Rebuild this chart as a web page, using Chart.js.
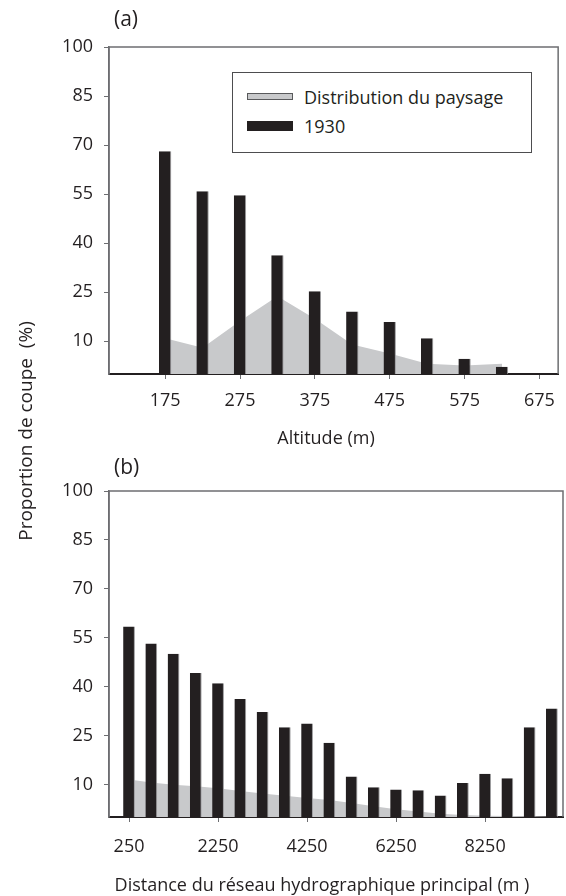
<!DOCTYPE html>
<html>
<head>
<meta charset="utf-8">
<script src="https://cdn.jsdelivr.net/npm/chart.js@4.4.1/dist/chart.umd.min.js"></script>
<style>
  body { margin: 0; background: #fff; font-family: "Open Sans", sans-serif; color: #231f20; }
  #wrap { position: relative; width: 566px; height: 896px; overflow: hidden; }
  canvas { position: absolute; left: 0; }
  #chartA { top: 0; }
  #chartB { top: 448px; }
  .tag { position: absolute; left: 114px; font-size: 21px; line-height: 24px; }
  .xtitle { position: absolute; width: 500px; height: 24px; line-height: 24px; font-size: 18px; text-align: center; white-space: pre; }
  #ylabel {
    position: absolute; left: -175px; top: 419px; width: 400px; height: 24px; line-height: 24px;
    font-size: 19px; text-align: center; white-space: pre; transform: rotate(-90deg);
  }
  #legendA {
    position: absolute; left: 232px; top: 72px; width: 298px; height: 79px;
    border: 1px solid #4d4d4f; background: #fff;
  }
  .item { position: absolute; left: 14px; height: 24px; font-size: 18px; line-height: 24px; }
  .item span.sw { position: absolute; left: 0; width: 46px; box-sizing: border-box; }
  .item span.txt { position: absolute; left: 57px; white-space: nowrap; }
</style>
</head>
<body>
<div id="wrap">
  <canvas id="chartA" width="566" height="448"></canvas>
  <canvas id="chartB" width="566" height="448"></canvas>
  <div class="tag" style="top:6px">(a)</div>
  <div class="tag" style="top:454px">(b)</div>
  <div class="xtitle" style="left:76px;top:425px">Altitude (m)</div>
  <div class="xtitle" style="left:72px;top:872px">Distance du réseau hydrographique principal (m )</div>
  <div id="ylabel">Proportion de coupe  (%)</div>
  <div id="legendA"></div>
</div>
<script>
// panel (a) : altitude
const altitudes = [175, 225, 275, 325, 375, 425, 475, 525, 575, 625];
const coupeAlt1930 = [68.1, 55.9, 54.7, 36.3, 25.3, 19.1, 15.9, 10.9, 4.7, 2.2];
const paysageAlt = [10.9, 8.0, 16.2, 23.8, 16.9, 9.0, 6.3, 3.1, 2.6, 3.1];
const altTicks = [175, 275, 375, 475, 575, 675];

// panel (b) : distance au reseau hydrographique
const distances = [250, 750, 1250, 1750, 2250, 2750, 3250, 3750, 4250, 4750,
  5250, 5750, 6250, 6750, 7250, 7750, 8250, 8750, 9250, 9750];
const coupeDist1930 = [58.4, 53.2, 50.1, 44.2, 41.0, 36.2, 32.2, 27.5, 28.7, 22.8,
  12.4, 9.1, 8.4, 8.2, 6.6, 10.4, 13.3, 11.9, 27.5, 33.3];
const paysageDist = [11.5, 10.6, 9.9, 9.4, 8.8, 8.0, 7.2, 6.5, 5.8, 5.2,
  4.3, 3.3, 2.4, 1.7, 1.0, 0.6, 0.4, 0.3, 0.2, 0.1];
const distTicks = [250, 2250, 4250, 6250, 8250];

const yTicks = [10, 25, 40, 55, 70, 85, 100];

const ink = "#231f20";
const greyLand = "#c8c9cb";
const frameGrey = "#6d6e71";

Chart.defaults.font.family = '"Open Sans", sans-serif';
Chart.defaults.font.size = 18;
Chart.defaults.color = ink;

// left, top and right lines of the box
const framePlugin = {
  id: "frame",
  afterDraw(chart) {
    const { ctx, chartArea: a } = chart;
    ctx.save();
    ctx.strokeStyle = frameGrey;
    ctx.lineWidth = 1.5;
    ctx.beginPath();
    ctx.moveTo(a.left, a.bottom);
    ctx.lineTo(a.left, a.top);
    ctx.lineTo(a.right, a.top);
    ctx.lineTo(a.right, a.bottom);
    ctx.stroke();
    ctx.restore();
  },
};

const toPoints = (xs, ys) => xs.map((x, i) => ({ x, y: ys[i] }));

const makeChart = (id, p) => {
  const config = {
    type: "bar",
    data: {
      datasets: [
        {
          type: "line",
          label: "Distribution du paysage",
          data: toPoints(p.xs, p.land),
          fill: "origin",
          backgroundColor: greyLand,
          borderColor: greyLand,
          borderWidth: 0,
          pointRadius: 0,
          tension: 0,
          order: 1,
        },
        {
          type: "bar",
          label: "1930",
          data: toPoints(p.xs, p.bars),
          backgroundColor: ink,
          borderColor: "#9d9d9f",
          borderWidth: { top: 0, right: 1, bottom: 0, left: 0 },
          borderSkipped: false,
          barPercentage: p.barPct,
          categoryPercentage: 1,
          order: 0,
        },
      ],
    },
    options: {
      responsive: false,
      animation: false,
      layout: { padding: { top: p.top, right: 3, left: 0, bottom: 0 } },
      plugins: { legend: { display: false }, tooltip: { enabled: false } },
      scales: {
        x: {
          type: "linear",
          min: p.xMin,
          max: p.xMax,
          offset: false,
          afterBuildTicks: (axis) => {
            axis.ticks = p.xTicks.map((v) => ({ value: v }));
          },
          afterFit: (axis) => {
            axis.height = p.xAxisH;
          },
          grid: { offset: false, drawOnChartArea: false, tickLength: 5, color: frameGrey },
          border: { color: ink, width: 2 },
          ticks: { padding: p.tickPad, maxRotation: 0, callback: (v) => String(v) },
        },
        y: {
          min: 0,
          max: 100,
          afterBuildTicks: (axis) => {
            axis.ticks = yTicks.map((v) => ({ value: v }));
          },
          afterFit: (axis) => {
            axis.width = 109;
          },
          grid: { drawOnChartArea: false, tickLength: 5, color: frameGrey },
          border: { color: frameGrey, width: 1.5 },
          ticks: { padding: 11, callback: (v) => String(v) },
        },
      },
    },
    plugins: [framePlugin],
  };
  return new Chart(document.getElementById(id), config);
};

const chartA = makeChart("chartA", {
  xs: altitudes, bars: coupeAlt1930, land: paysageAlt, xTicks: altTicks,
  xMin: 100, xMax: 700, top: 47, xAxisH: 74, tickPad: 11, barPct: 0.33,
});

makeChart("chartB", {
  xs: distances, bars: coupeDist1930, land: paysageDist, xTicks: distTicks,
  xMin: -200, xMax: 10000, top: 43, xAxisH: 79, tickPad: 14, barPct: 0.53,
});

// legend of panel (a), built from the chart's own datasets
const legendA = document.getElementById("legendA");
chartA.data.datasets.forEach((ds, i) => {
  const item = document.createElement("div");
  item.className = "item";
  item.style.top = (i === 0 ? 12 : 41) + "px";
  const sw = document.createElement("span");
  sw.className = "sw";
  if (ds.type === "line") {
    sw.style.cssText = `top:8px;height:7px;background:${ds.backgroundColor};border:1px solid #58595b;`;
  } else {
    sw.style.cssText = `top:7px;height:10px;background:${ds.backgroundColor};`;
  }
  const txt = document.createElement("span");
  txt.className = "txt";
  txt.textContent = ds.label;
  item.appendChild(sw);
  item.appendChild(txt);
  legendA.appendChild(item);
});
</script>
</body>
</html>
